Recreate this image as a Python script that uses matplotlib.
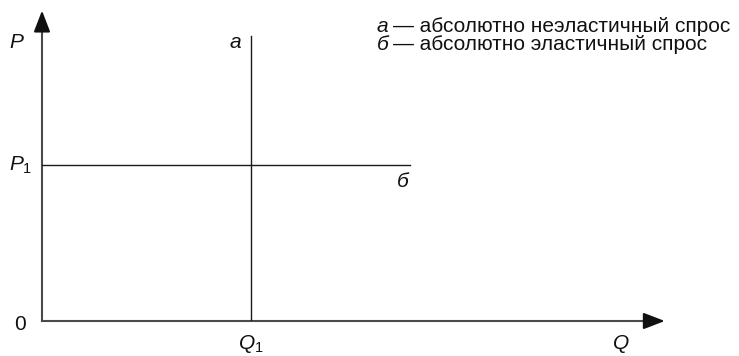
import matplotlib
matplotlib.use('Agg')
import matplotlib.pyplot as plt

plt.rcParams['font.family'] = ['Liberation Sans', 'DejaVu Sans']
plt.rcParams['mathtext.fontset'] = 'custom'
plt.rcParams['mathtext.rm'] = 'Liberation Sans'
plt.rcParams['mathtext.it'] = 'Liberation Sans:italic'

# schematic values (Q1 and P1 are unit values, others relative to them)
Q1 = 1.0
P1 = 1.0
q_axis_max = 2.98
p_axis_max = 1.99
demand_a_q = [Q1, Q1]          # perfectly inelastic
demand_a_p = [0.0, 1.83]
demand_b_q = [0.0, 1.76]       # perfectly elastic
demand_b_p = [P1, P1]

legend_lines = [('а', '— абсолютно неэластичный спрос'),
                ('б', '— абсолютно эластичный спрос')]

W, H = 739, 356
fig = plt.figure(figsize=(W / 100, H / 100), dpi=100)
# origin of the diagram sits at pixel (42, 321)
ax = fig.add_axes([42 / W, 35 / H, 697 / W, 321 / H])
ax.set_xlim(0, 697 / 209)
ax.set_ylim(0, 321 / 156)
ax.axis('off')

axis_col = '#4a4a4a'
line_col = '#1a1a1a'
fs = 15

# axes with arrow heads
head = dict(arrowstyle='-|>,head_length=1.3,head_width=0.5', color='#111111',
            lw=1.5, shrinkA=0, shrinkB=0, mutation_scale=10)
ax.plot([0, q_axis_max - 0.05], [0, 0], color=axis_col, lw=1.5, clip_on=False)
ax.plot([0, 0], [0, p_axis_max - 0.07], color=axis_col, lw=1.5, clip_on=False)
ax.annotate('', xy=(q_axis_max, 0), xytext=(q_axis_max - 0.1, 0), arrowprops=head,
            annotation_clip=False)
ax.annotate('', xy=(0, p_axis_max), xytext=(0, p_axis_max - 0.13), arrowprops=head,
            annotation_clip=False)

# demand curves
ax.plot(demand_a_q, demand_a_p, color=line_col, lw=1.0)
ax.plot(demand_b_q, demand_b_p, color=line_col, lw=1.0)

# labels
kw = dict(fontsize=fs, color='#111111', clip_on=False)
ax.text(-0.12, 1.75, '$P$', ha='center', va='baseline', **kw)
ax.text(-0.045, P1, '$P_1$', ha='right', va='center', **kw)
ax.text(-0.105, -0.02, '0', ha='center', va='center', **kw)
ax.text(Q1, -0.18, '$Q_1$', ha='center', va='baseline', **kw)
ax.text(2.77, -0.18, '$Q$', ha='center', va='baseline', **kw)
ax.text(0.923, 1.75, 'а', style='italic', ha='center', va='baseline', **kw)
ax.text(1.727, 0.86, 'б', style='italic', ha='center', va='baseline', **kw)

# legend text
for i, (letter, desc) in enumerate(legend_lines):
    y = 1.853 - i * 0.116
    ax.text(1.603, y, letter, style='italic', ha='left', va='baseline', **kw)
    ax.text(1.678, y, desc, ha='left', va='baseline', **kw)

fig.savefig('out.png', dpi=100, facecolor='white')
